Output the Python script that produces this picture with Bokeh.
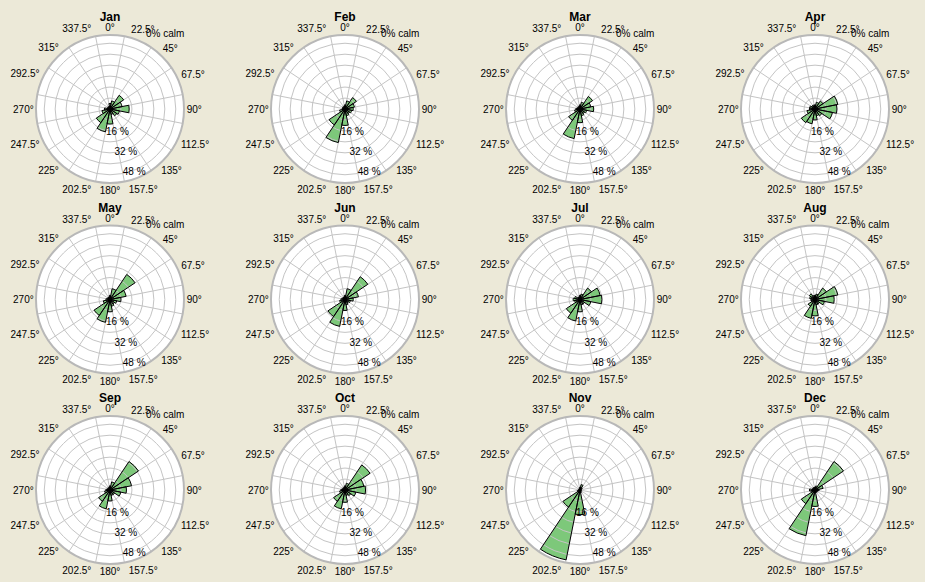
import numpy as np
from bokeh.plotting import figure
from bokeh.models import ColumnDataSource, Range1d, GlobalInlineStyleSheet, LabelSet
from bokeh.core.properties import value
from bokeh.embed import file_html
from bokeh.resources import INLINE

# ---------------- data ----------------
months = ["Jan", "Feb", "Mar", "Apr", "May", "Jun",
          "Jul", "Aug", "Sep", "Oct", "Nov", "Dec"]
directions = [0, 22.5, 45, 67.5, 90, 112.5, 135, 157.5,
              180, 202.5, 225, 247.5, 270, 292.5, 315, 337.5]
dir_labels = ["0°", "22.5°", "45°", "67.5°", "90°", "112.5°", "135°", "157.5°",
              "180°", "202.5°", "225°", "247.5°", "270°", "292.5°", "315°", "337.5°"]
# frequency (%) by direction: N, NNE, NE, ENE, E, ESE, SE, SSE, S, SSW, SW, WSW, W, WNW, NW, NNW
jan = [4, 6, 12, 9, 14, 7, 6, 4, 11, 17, 12, 6, 4, 2, 2, 2]
feb = [3, 6, 10, 7, 6, 5, 4, 5, 12, 25, 14, 4, 2, 2, 2, 2]
mar = [3, 5, 11, 8, 10, 5, 4, 5, 10, 22, 10, 4, 3, 2, 2, 2]
apr = [3, 5, 7, 17, 16, 13, 6, 5, 8, 11, 12, 6, 4, 4, 3, 3]
may = [3, 8, 22, 12, 8, 5, 4, 5, 9, 17, 14, 5, 3, 2, 2, 2]
jun = [3, 8, 20, 10, 6, 4, 3, 4, 8, 20, 15, 4, 3, 2, 2, 2]
jul = [3, 4, 10, 15, 16, 8, 4, 4, 9, 16, 12, 4, 5, 4, 2, 2]
aug = [3, 4, 10, 17, 14, 7, 4, 4, 12, 14, 6, 3, 3, 4, 5, 3]
sep = [3, 6, 25, 16, 12, 8, 4, 4, 8, 14, 10, 4, 3, 2, 2, 2]
oct_ = [3, 5, 22, 14, 15, 8, 5, 4, 9, 14, 10, 4, 3, 2, 2, 2]
nov = [2, 4, 2, 1, 1, 1, 1, 2, 18, 52, 15, 2, 1, 1, 1, 1]
dec = [2, 3, 25, 6, 3, 2, 2, 2, 12, 34, 12, 3, 4, 2, 2, 2]
monthly = [jan, feb, mar, apr, may, jun, jul, aug, sep, oct_, nov, dec]
calm = [0, 0, 0, 0, 0, 0, 0, 0, 0, 0, 0, 0]

ring_values = [8, 16, 24, 32, 40, 48]
ring_label_values = [16, 32, 48]
r_max = 54  # % at the outer circle

# ---------------- layout ----------------
PAGE_W, PAGE_H = 925, 582
col_x = [109.5, 344.5, 579.5, 814.5]
row_y = [108.5, 299.0, 489.5]
R_OUT = 74.0
scale = R_OUT / r_max

BG = "#ECE9D8"
GRID = "#C4C4C4"
BAR = "#7DC87A"
FONT = value("Liberation Sans")

p = figure(width=PAGE_W, height=PAGE_H,
           x_range=Range1d(0, PAGE_W), y_range=Range1d(0, PAGE_H),
           output_backend="svg", toolbar_location=None, tools="", min_border=0)
p.axis.visible = False
p.grid.visible = False
p.outline_line_color = None
p.background_fill_color = BG
p.border_fill_color = BG
p.stylesheets = [GlobalInlineStyleSheet(
    css=f"html, body {{ margin: 0; padding: 0; overflow: hidden; background-color: {BG}; }}")]

centers = []
for i in range(12):
    cx = col_x[i % 4]
    cy = PAGE_H - row_y[i // 4]
    centers.append((cx, cy))

# white discs
p.circle(x=[c[0] for c in centers], y=[c[1] for c in centers], radius=R_OUT,
         fill_color="white", line_color=None)

# bars
half = np.deg2rad(11.25)
bx, by, br, bs, be = [], [], [], [], []
for (cx, cy), vals in zip(centers, monthly):
    for d, v in zip(directions, vals):
        a = np.deg2rad(90 - d)
        bx.append(cx); by.append(cy); br.append(v * scale)
        bs.append(a - half); be.append(a + half)
bars = ColumnDataSource(dict(x=bx, y=by, r=br, s=bs, e=be))
p.wedge(x="x", y="y", radius="r", start_angle="s", end_angle="e", source=bars,
        fill_color=BAR, line_color=None)

# grid rings and spokes
gx, gy, gr = [], [], []
for cx, cy in centers:
    for rv in ring_values:
        gx.append(cx); gy.append(cy); gr.append(rv * scale)
p.circle(x=gx, y=gy, radius=gr, fill_color=None, line_color=GRID, line_width=1)

sx0, sy0, sx1, sy1 = [], [], [], []
for cx, cy in centers:
    for d in directions:
        a = np.deg2rad(90 - d - 11.25)
        sx0.append(cx); sy0.append(cy)
        sx1.append(cx + R_OUT * np.cos(a)); sy1.append(cy + R_OUT * np.sin(a))
p.segment(x0=sx0, y0=sy0, x1=sx1, y1=sy1, line_color=GRID, line_width=1)

# bar outlines
p.wedge(x="x", y="y", radius="r", start_angle="s", end_angle="e", source=bars,
        fill_color=None, line_color="black", line_width=1)

# outer circle
p.circle(x=[c[0] for c in centers], y=[c[1] for c in centers], radius=R_OUT,
         fill_color=None, line_color="#B8B8B8", line_width=2)


def add_labels(xs, ys, texts, align="center", size="10px", style="normal"):
    src = ColumnDataSource(dict(x=xs, y=ys, t=texts))
    p.add_layout(LabelSet(x="x", y="y", text="t", source=src,
                          text_align=align, text_baseline="middle",
                          text_font=FONT, text_font_size=value(size),
                          text_font_style=value(style), text_color="black"))


# direction labels
lx, ly, lt = [], [], []
for cx, cy in centers:
    for d, lab in zip(directions, dir_labels):
        a = np.deg2rad(d)
        w = len(lab) * 4.8
        rr = 77 + abs(np.sin(a)) * w / 2 + abs(np.cos(a)) * 4.5
        lx.append(cx + rr * np.sin(a)); ly.append(cy + rr * np.cos(a)); lt.append(lab)
add_labels(lx, ly, lt)

# ring value labels along 157.5 deg
rx, ry, rt = [], [], []
a = np.deg2rad(157.5)
for cx, cy in centers:
    for rv in ring_label_values:
        rr = rv * scale
        rx.append(cx + rr * np.sin(a) - 1); ry.append(cy + rr * np.cos(a) - 2)
        rt.append(f"{rv} %")
add_labels(rx, ry, rt)

# calm labels
add_labels([c[0] + 36 for c in centers], [c[1] + 75.5 for c in centers],
           [f"{c}% calm" for c in calm], align="left")

# titles
add_labels([c[0] for c in centers], [c[1] + 92 for c in centers], months,
           size="12px", style="bold")

open("out.html", "w").write(file_html(p, INLINE))
